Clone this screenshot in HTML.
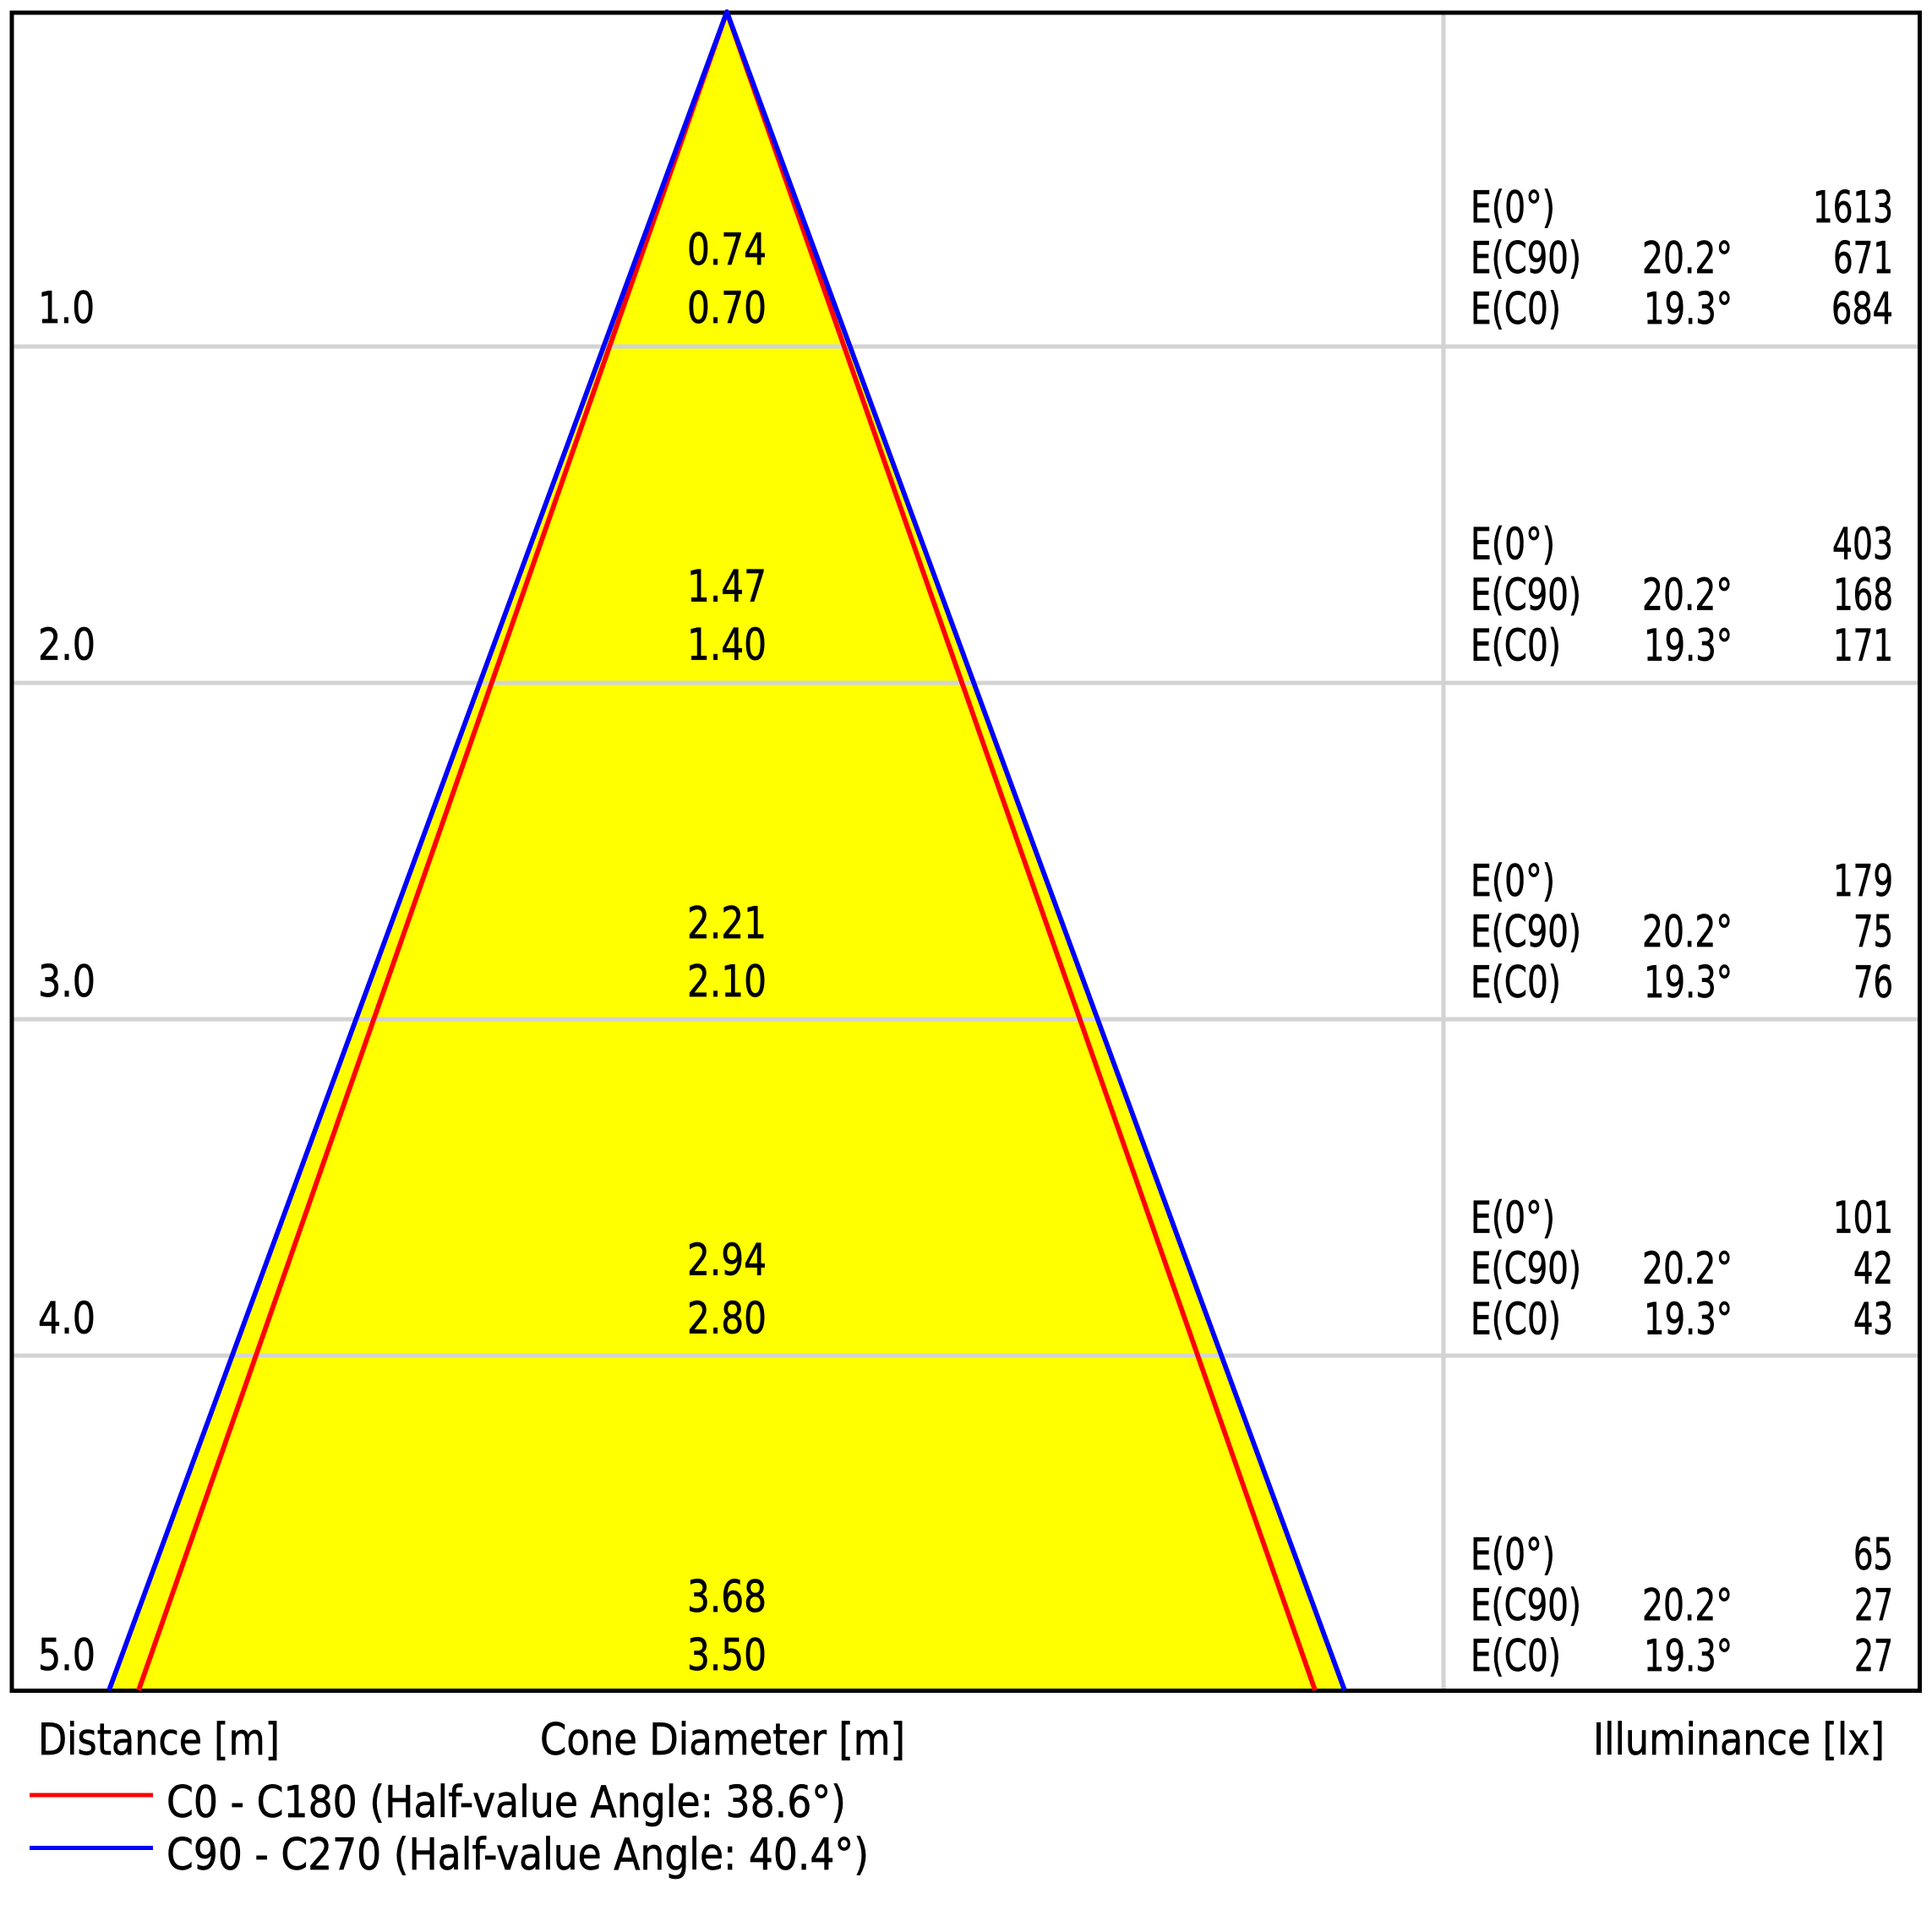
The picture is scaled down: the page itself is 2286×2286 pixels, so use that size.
<!DOCTYPE html>
<html>
<head>
<meta charset="utf-8">
<style>
html,body{margin:0;padding:0;background:#fff;}
svg{display:block;}
text{font-family:"DejaVu Sans","Liberation Sans",sans-serif;font-size:52px;fill:#000;stroke:#000;stroke-width:0.7px;}
</style>
</head>
<body>
<svg width="2286" height="2286" viewBox="0 0 2286 2286" xmlns="http://www.w3.org/2000/svg">
<rect x="0" y="0" width="2286" height="2286" fill="#fff"/>
<!-- yellow cone -->
<polygon points="860,14 129,2000 1591,2000" fill="#ffff00"/>
<!-- grid -->
<g stroke="#d3d3d3" stroke-width="5">
<line x1="14" y1="410" x2="2271" y2="410"/>
<line x1="14" y1="808" x2="2271" y2="808"/>
<line x1="14" y1="1206" x2="2271" y2="1206"/>
<line x1="14" y1="1604" x2="2271" y2="1604"/>
<line x1="1708" y1="15" x2="1708" y2="2000"/>
</g>
<!-- frame -->
<rect x="14" y="15" width="2257.5" height="1985.5" fill="none" stroke="#000" stroke-width="5"/>
<!-- cone lines -->
<polyline points="164,2000 860,14 1556,2000" fill="none" stroke="#ff0000" stroke-width="5.8" stroke-linejoin="round"/>
<polyline points="129,2000 860,14 1591,2000" fill="none" stroke="#0000ff" stroke-width="5.8" stroke-linejoin="round"/>

<!-- distance labels -->
<text x="45" y="382" textLength="67" lengthAdjust="spacingAndGlyphs">1.0</text>
<text x="45" y="780.5" textLength="68" lengthAdjust="spacingAndGlyphs">2.0</text>
<text x="45" y="1179" textLength="68" lengthAdjust="spacingAndGlyphs">3.0</text>
<text x="45" y="1577.5" textLength="68" lengthAdjust="spacingAndGlyphs">4.0</text>
<text x="45" y="1976" textLength="68" lengthAdjust="spacingAndGlyphs">5.0</text>

<!-- cone diameter labels -->
<g text-anchor="middle">
<text x="860" y="313" textLength="94" lengthAdjust="spacingAndGlyphs">0.74</text>
<text x="860" y="382" textLength="94" lengthAdjust="spacingAndGlyphs">0.70</text>
<text x="860" y="711.5" textLength="94" lengthAdjust="spacingAndGlyphs">1.47</text>
<text x="860" y="780.5" textLength="94" lengthAdjust="spacingAndGlyphs">1.40</text>
<text x="860" y="1110" textLength="94" lengthAdjust="spacingAndGlyphs">2.21</text>
<text x="860" y="1179" textLength="94" lengthAdjust="spacingAndGlyphs">2.10</text>
<text x="860" y="1508.5" textLength="94" lengthAdjust="spacingAndGlyphs">2.94</text>
<text x="860" y="1577.5" textLength="94" lengthAdjust="spacingAndGlyphs">2.80</text>
<text x="860" y="1907" textLength="94" lengthAdjust="spacingAndGlyphs">3.68</text>
<text x="860" y="1976" textLength="94" lengthAdjust="spacingAndGlyphs">3.50</text>
</g>

<!-- illuminance table -->
<g>
<text x="1740" y="263" textLength="100" lengthAdjust="spacingAndGlyphs">E(0°)</text>
<text x="1740" y="323" textLength="131" lengthAdjust="spacingAndGlyphs">E(C90)</text>
<text x="1740" y="383" textLength="107" lengthAdjust="spacingAndGlyphs">E(C0)</text>
<text x="1740" y="661.5" textLength="100" lengthAdjust="spacingAndGlyphs">E(0°)</text>
<text x="1740" y="721.5" textLength="131" lengthAdjust="spacingAndGlyphs">E(C90)</text>
<text x="1740" y="781.5" textLength="107" lengthAdjust="spacingAndGlyphs">E(C0)</text>
<text x="1740" y="1060" textLength="100" lengthAdjust="spacingAndGlyphs">E(0°)</text>
<text x="1740" y="1120" textLength="131" lengthAdjust="spacingAndGlyphs">E(C90)</text>
<text x="1740" y="1180" textLength="107" lengthAdjust="spacingAndGlyphs">E(C0)</text>
<text x="1740" y="1458.5" textLength="100" lengthAdjust="spacingAndGlyphs">E(0°)</text>
<text x="1740" y="1518.5" textLength="131" lengthAdjust="spacingAndGlyphs">E(C90)</text>
<text x="1740" y="1578.5" textLength="107" lengthAdjust="spacingAndGlyphs">E(C0)</text>
<text x="1740" y="1857" textLength="100" lengthAdjust="spacingAndGlyphs">E(0°)</text>
<text x="1740" y="1917" textLength="131" lengthAdjust="spacingAndGlyphs">E(C90)</text>
<text x="1740" y="1977" textLength="107" lengthAdjust="spacingAndGlyphs">E(C0)</text>
</g>
<g text-anchor="end">
<text x="2050" y="323" textLength="107" lengthAdjust="spacingAndGlyphs">20.2°</text>
<text x="2050" y="383" textLength="105" lengthAdjust="spacingAndGlyphs">19.3°</text>
<text x="2050" y="721.5" textLength="107" lengthAdjust="spacingAndGlyphs">20.2°</text>
<text x="2050" y="781.5" textLength="105" lengthAdjust="spacingAndGlyphs">19.3°</text>
<text x="2050" y="1120" textLength="107" lengthAdjust="spacingAndGlyphs">20.2°</text>
<text x="2050" y="1180" textLength="105" lengthAdjust="spacingAndGlyphs">19.3°</text>
<text x="2050" y="1518.5" textLength="107" lengthAdjust="spacingAndGlyphs">20.2°</text>
<text x="2050" y="1578.5" textLength="105" lengthAdjust="spacingAndGlyphs">19.3°</text>
<text x="2050" y="1917" textLength="107" lengthAdjust="spacingAndGlyphs">20.2°</text>
<text x="2050" y="1977" textLength="105" lengthAdjust="spacingAndGlyphs">19.3°</text>

<text x="2240" y="263" textLength="95" lengthAdjust="spacingAndGlyphs">1613</text>
<text x="2240" y="323" textLength="71" lengthAdjust="spacingAndGlyphs">671</text>
<text x="2240" y="383" textLength="73" lengthAdjust="spacingAndGlyphs">684</text>

<text x="2240" y="661.5" textLength="72" lengthAdjust="spacingAndGlyphs">403</text>
<text x="2240" y="721.5" textLength="71" lengthAdjust="spacingAndGlyphs">168</text>
<text x="2240" y="781.5" textLength="71" lengthAdjust="spacingAndGlyphs">171</text>

<text x="2240" y="1060" textLength="71" lengthAdjust="spacingAndGlyphs">179</text>
<text x="2240" y="1120" textLength="47" lengthAdjust="spacingAndGlyphs">75</text>
<text x="2240" y="1180" textLength="47" lengthAdjust="spacingAndGlyphs">76</text>

<text x="2240" y="1458.5" textLength="71" lengthAdjust="spacingAndGlyphs">101</text>
<text x="2240" y="1518.5" textLength="47" lengthAdjust="spacingAndGlyphs">42</text>
<text x="2240" y="1578.5" textLength="47" lengthAdjust="spacingAndGlyphs">43</text>

<text x="2240" y="1857" textLength="47" lengthAdjust="spacingAndGlyphs">65</text>
<text x="2240" y="1917" textLength="46" lengthAdjust="spacingAndGlyphs">27</text>
<text x="2240" y="1977" textLength="46" lengthAdjust="spacingAndGlyphs">27</text>
</g>

<!-- axis titles -->
<text x="45" y="2076" textLength="286" lengthAdjust="spacingAndGlyphs">Distance [m]</text>
<text x="639" y="2076" textLength="432" lengthAdjust="spacingAndGlyphs">Cone Diameter [m]</text>
<text x="1885" y="2076" textLength="345" lengthAdjust="spacingAndGlyphs">Illuminance [lx]</text>

<!-- legend -->
<line x1="35" y1="2124" x2="181" y2="2124" stroke="#ff0000" stroke-width="5"/>
<line x1="35" y1="2186.5" x2="181" y2="2186.5" stroke="#0000ff" stroke-width="5"/>
<text x="197" y="2150" textLength="804" lengthAdjust="spacingAndGlyphs">C0 - C180 (Half-value Angle: 38.6°)</text>
<text x="197" y="2212" textLength="831" lengthAdjust="spacingAndGlyphs">C90 - C270 (Half-value Angle: 40.4°)</text>
</svg>
</body>
</html>
